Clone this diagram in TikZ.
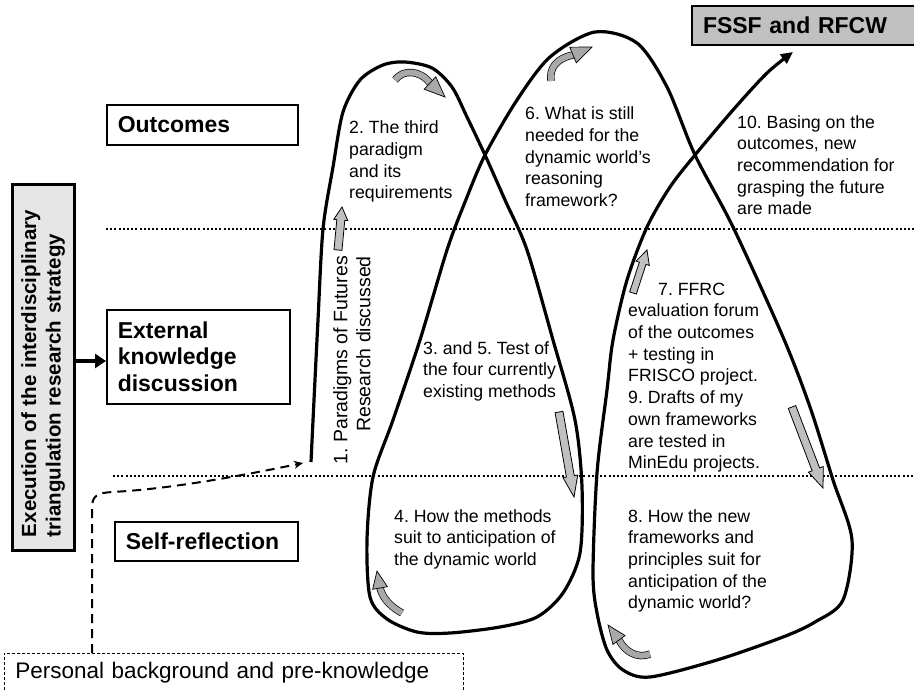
\documentclass[tikz,border=0pt]{standalone}
\usepackage{fontspec}
\setmainfont{Liberation Sans}
\usetikzlibrary{calc,arrows.meta}

\definecolor{fssfgray}{HTML}{C0C0C0}
\definecolor{vboxgray}{HTML}{E6E6E6}
\definecolor{blockgray}{HTML}{C0C0C0}
\definecolor{curvgray}{HTML}{A8A8A8}

\newcommand{\txtfont}{\fontsize{17.7pt}{21.7pt}\selectfont}
\newcommand{\boxfont}{\fontsize{23pt}{26.5pt}\selectfont\bfseries}
\newcommand{\vfont}{\fontsize{20.5pt}{24.5pt}\selectfont\bfseries}

% straight block arrow: #1 tail, #2 tip, #3 shaft half width, #4 head half width, #5 head length
\newcommand{\blockarr}[5]{%
  \path ($(#2)!#5!(#1)$) coordinate (bhc);
  \filldraw[blockarrow] ($(#1)!#3!90:(#2)$) -- ($(bhc)!#3!90:(#2)$) -- ($(bhc)!#4!90:(#2)$) -- (#2)
    -- ($(bhc)!#4!-90:(#2)$) -- ($(bhc)!#3!-90:(#2)$) -- ($(#1)!#3!-90:(#2)$) -- cycle;}

% curved block arrow: #1 start, #2 #3 controls, #4 head base, #5 tip, #6 head half width
\newcommand{\curvarr}[6]{%
  \draw[band] (#1) .. controls (#2) and (#3) .. (#4);
  \filldraw[curvhead] ($(#4)!#6!90:(#5)$) -- (#5) -- ($(#4)!#6!-90:(#5)$) -- cycle;}

\begin{document}
\frenchspacing
\begin{tikzpicture}[x=1pt,y=-1pt,
  mainline/.style={line width=3.2pt, line join=round, -{Triangle[length=12pt,width=11pt]}},
  dotline/.style={line width=2pt, dash pattern=on 2pt off 2.2pt},
  dashconn/.style={line width=2pt, dash pattern=on 9pt off 6pt, -{Stealth[length=9pt,width=8pt]}},
  fatarrow/.style={line width=4pt, -{Triangle[length=11pt,width=14pt]}},
  blockarrow/.style={fill=blockgray, draw=black, line width=0.8pt, line join=miter},
  band/.style={draw=black, line width=0.7pt, double=curvgray, double distance=6pt},
  curvhead/.style={fill=curvgray, draw=black, line width=0.7pt},
  txt/.style={anchor=north west, inner sep=0pt, align=left, font=\txtfont},
  lbox/.style={draw, line width=1.5pt, anchor=north west, inner xsep=11pt, inner ysep=2pt, align=left, font=\boxfont},
  vbox/.style={draw, line width=3pt, fill=vboxgray, rotate=90, minimum width=366pt, minimum height=62pt,
    text width=340pt, inner xsep=13pt, inner ysep=0pt, align=left, font=\vfont},
  persbox/.style={draw, line width=0.7pt, dash pattern=on 3pt off 2pt, anchor=north west,
    minimum width=459pt, minimum height=38pt, text width=437pt, inner xsep=11pt, inner ysep=2pt,
    align=left, font=\fontsize{22.5pt}{26pt}\selectfont}
]
\useasboundingbox (0,0) rectangle (914,691);
\fill[white] (0,0) rectangle (914,691);

% dotted level lines
\coordinate (d1a) at (106,229); \coordinate (d1b) at (914,229);
\coordinate (d2a) at (113,476); \coordinate (d2b) at (914,476);
\draw[dotline] (d1a) -- (d1b);
\draw[dotline] (d2a) -- (d2b);

% boxes
\node[lbox, minimum width=191pt, minimum height=40pt, text width=169pt] (outc) at (106,104) {Outcomes};
\node[lbox, minimum width=183pt, minimum height=94pt, text width=161pt] (ext) at (106,309) {External\\knowledge\\discussion};
\node[lbox, minimum width=183pt, minimum height=39pt, text width=161pt] (self) at (114,521) {Self-reflection};
\node[lbox, fill=fssfgray, line width=2pt, minimum width=240pt, minimum height=39pt, text width=218pt] (fssf) at (691,5) {FSSF and RFCW};
\node[vbox] (vb) at (43,367) {Execution of the interdisciplinary\\triangulation research strategy};
\node[persbox] (pers) at (4,653) {Personal background and pre-knowledge};

% arrow from strategy box to external knowledge
\coordinate (fa) at ([yshift=6pt]vb.south);
\draw[fatarrow] (fa) -- (fa -| ext.west);

% main loop line
\coordinate (mstart) at (311,462);
\coordinate (mend) at (793,52);
\draw[mainline] plot[smooth, tension=0.5] coordinates {
  (311,462) (314,400) (318,320) (323,229) (333,167) (343,112) (360,80) (383,65) (405,62)
  (432,68) (452,87) (467,117) (485,155) (505,200) (527,250) (553,340) (575,420) (582,487)
  (580,553) (563,593) (537,617) (500,627) (450,633) (417,632) (387,619) (370,597) (367,540)
  (373,477) (393,420) (420,340) (447,250) (465,202) (485,155) (517,100) (550,57) (595,32)
  (637,43) (667,87) (695,155) (733,227) (783,337) (810,407) (833,480) (852,540) (843,600)
  (815,622) (783,637) (717,660) (650,677) (623,670) (607,650) (597,613) (593,573) (597,473)
  (607,390) (613,340) (627,280) (647,227) (670,187) (695,155) (733,110) (767,73) (793,52)};

% dashed connector from personal background
\coordinate (dstart) at ([xshift=88pt]pers.north west);
\coordinate (dend) at (303,463);
\draw[dashconn] (dstart) -- (92,508) .. controls (92,495) and (98,493) .. (112,492)
  .. controls (170,489) and (240,476) .. (dend);

% straight block arrows
\coordinate (s1a) at (338,250); \coordinate (s1b) at (342,207);
\blockarr{s1a}{s1b}{4pt}{7pt}{13pt}
\coordinate (s2a) at (559,412); \coordinate (s2b) at (574,497);
\blockarr{s2a}{s2b}{4pt}{7.5pt}{21pt}
\coordinate (s3a) at (792,407); \coordinate (s3b) at (823,488);
\blockarr{s3a}{s3b}{4pt}{8pt}{20pt}
\coordinate (s4a) at (633,293); \coordinate (s4b) at (647,250);
\blockarr{s4a}{s4b}{3.5pt}{7pt}{14pt}

% curved block arrows
\coordinate (c1a) at (395,80); \coordinate (c1b) at (403,69); \coordinate (c1c) at (420,70);
\coordinate (c1d) at (430,83); \coordinate (c1t) at (445,97);
\curvarr{c1a}{c1b}{c1c}{c1d}{c1t}{8.5pt}
\coordinate (c2a) at (551,81); \coordinate (c2b) at (549,68); \coordinate (c2c) at (557,58);
\coordinate (c2d) at (573,55); \coordinate (c2t) at (592,47);
\curvarr{c2a}{c2b}{c2c}{c2d}{c2t}{8.5pt}
\coordinate (c3a) at (402,613); \coordinate (c3b) at (393,608); \coordinate (c3c) at (383,600);
\coordinate (c3d) at (380,588); \coordinate (c3t) at (377,571);
\curvarr{c3a}{c3b}{c3c}{c3d}{c3t}{7.5pt}
\coordinate (c4a) at (650,654); \coordinate (c4b) at (638,659); \coordinate (c4c) at (625,652);
\coordinate (c4d) at (619,640); \coordinate (c4t) at (608,625);
\curvarr{c4a}{c4b}{c4c}{c4d}{c4t}{7.5pt}

% texts
\node[txt] (t2) at (349,118.3) {\strut 2. The third\\paradigm\\and its\\requirements};
\node[txt] (t6) at (525,104.3) {\strut 6. What is still\\needed for the\\dynamic world’s\\reasoning\\framework?};
\node[txt] (t10) at (737,112.8) {\strut 10. Basing on the\\outcomes, new\\recommendation for\\grasping the future\\are made};
\node[txt] (t3) at (423,338.8) {\strut 3. and 5. Test of\\the four currently\\existing methods};
\node[txt] (t4) at (394,506.8) {\strut 4. How the methods\\suit to anticipation of\\the dynamic world};
\node[txt] (t7) at (628,279.8) {\strut\hspace*{30pt}7. FFRC\\evaluation forum\\of the outcomes\\+ testing in\\FRISCO project.\\9. Drafts of my\\own frameworks\\are tested in\\MinEdu projects.};
\node[txt] (t8) at (628,506.8) {\strut 8. How the new\\frameworks and\\principles suit for\\anticipation of the\\dynamic world?};
\node[rotate=90, anchor=north east, inner sep=0pt, align=right, font=\fontsize{19.5pt}{23pt}\selectfont] (t1) at (331,256) {\strut 1. Paradigms of Futures\\Research discussed};
\end{tikzpicture}
\end{document}
